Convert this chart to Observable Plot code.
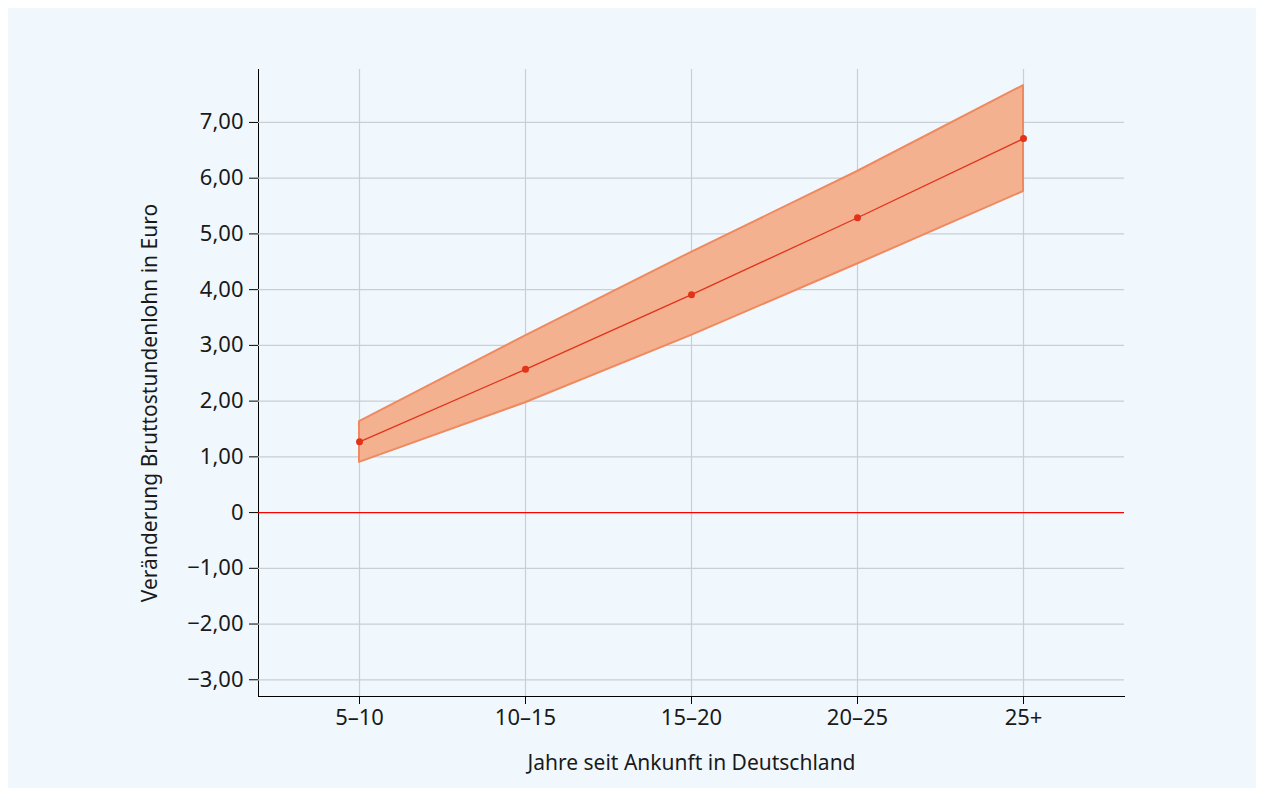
<!DOCTYPE html>
<html>
<head>
<meta charset="utf-8">
<script src="https://cdn.jsdelivr.net/npm/d3@7"></script>
<script src="https://cdn.jsdelivr.net/npm/@observablehq/plot@0.6"></script>
<style>
  html, body { margin: 0; padding: 0; background: #ffffff; }
  #chart { position: absolute; left: 8px; top: 8px; }
  #chart svg { display: block; max-width: none; }
</style>
</head>
<body>
<div id="chart"></div>
<script>
const categories = ["5–10", "10–15", "15–20", "20–25", "25+"];
const estimate = [1.27, 2.57, 3.91, 5.29, 6.71];
const lower = [0.90, 1.97, 3.18, 4.46, 5.76];
const upper = [1.63, 3.17, 4.67, 6.12, 7.66];
const yTicks = [-3, -2, -1, 0, 1, 2, 3, 4, 5, 6, 7];
const xTitle = "Jahre seit Ankunft in Deutschland";
const yTitle = "Veränderung Bruttostundenlohn in Euro";

const data = categories.map((c, i) => ({cat: c, est: estimate[i], lo: lower[i], hi: upper[i]}));
const fmt = d => d === 0 ? "0" : d.toFixed(2).replace(".", ",").replace("-", "\u2212");

const chart = Plot.plot({
  width: 1248,
  height: 780,
  marginLeft: 250,
  marginRight: 132,
  marginTop: 61,
  marginBottom: 92,
  style: {background: "#f0f8fe", fontFamily: "Noto Sans", fontSize: "21px", color: "#000"},
  x: {type: "point", domain: categories, padding: 0.6, label: null, line: true, tickSize: 8, tickPadding: 5},
  y: {domain: [-3.3, 7.95], label: null, ticks: yTicks, tickFormat: fmt, line: true, tickSize: 9, tickPadding: 6},
  marks: [
    Plot.gridX(categories, {stroke: "#c9cfd3", strokeOpacity: 1, strokeWidth: 1.2}),
    Plot.gridY(yTicks.filter(d => d !== 0), {stroke: "#c9cfd3", strokeOpacity: 1, strokeWidth: 1.2}),
    Plot.ruleY([0], {stroke: "#ff0000", strokeWidth: 1.3}),
    Plot.areaY(data, {x: "cat", y1: "lo", y2: "hi", fill: "#f3b18f", stroke: "#ef8a60", strokeWidth: 2, curve: "linear"}),
    Plot.line(data, {x: "cat", y: "est", stroke: "#e3321a", strokeWidth: 1.3}),
    Plot.dot(data, {x: "cat", y: "est", fill: "#e3321a", r: 3.5, stroke: null}),
    Plot.text([yTitle], {frameAnchor: "left", rotate: -90, dx: -108, dy: 20, fontSize: 21, fill: "#1a1a1a", textAnchor: "middle", lineAnchor: "middle"}),
    Plot.text([xTitle], {frameAnchor: "bottom", dy: 67, fontSize: 21, fill: "#1a1a1a", textAnchor: "middle", lineAnchor: "middle"})
  ]
});
chart.querySelectorAll('g[aria-label*="axis"] text').forEach(t => { t.setAttribute("font-size", "22"); t.setAttribute("fill", "#1a1a1a"); t.setAttribute("stroke", "none"); });
chart.querySelectorAll('g[aria-label*="axis"], g[aria-label*="frame"]').forEach(g => {
  if (g.querySelector("text")) return;
  g.setAttribute("stroke", "#000");
  g.setAttribute("stroke-opacity", "1");
  g.querySelectorAll("path, line, rect").forEach(p => { p.setAttribute("stroke", "#000"); p.setAttribute("stroke-opacity", "1"); });
});
document.getElementById("chart").appendChild(chart);
</script>
</body>
</html>
